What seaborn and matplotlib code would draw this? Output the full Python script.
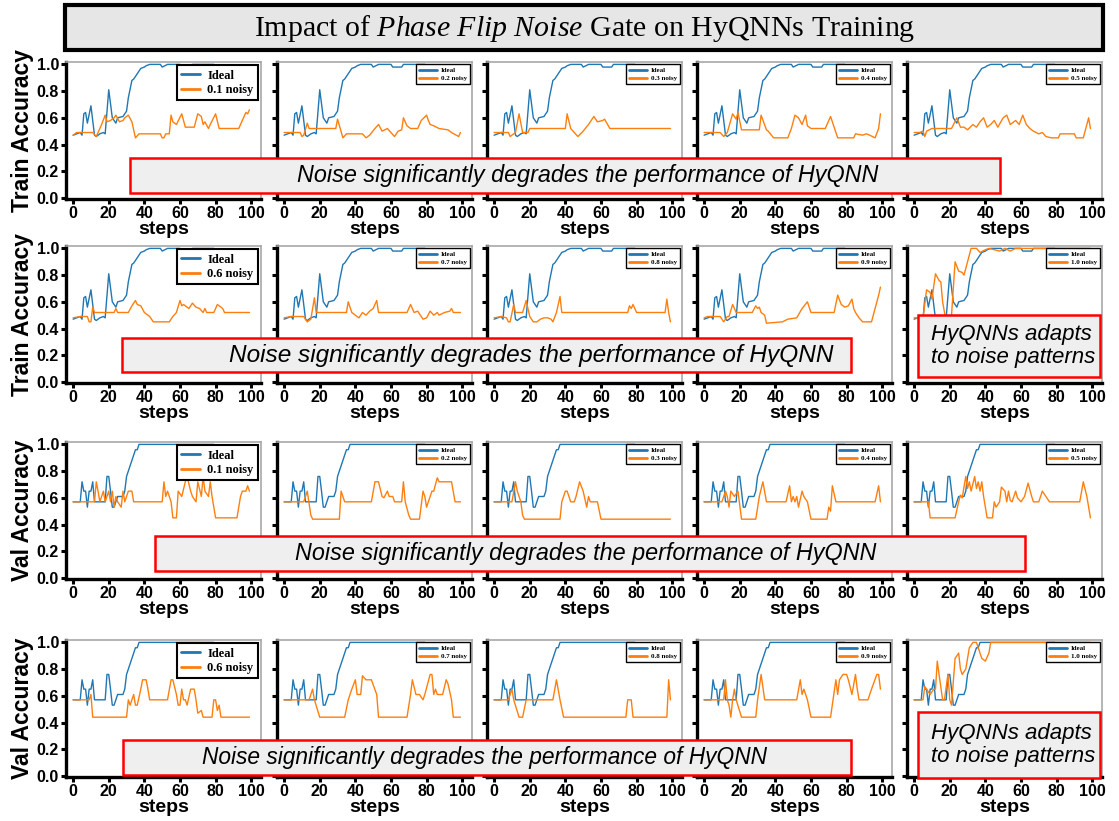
import matplotlib
matplotlib.use('Agg')
import matplotlib.pyplot as plt
from matplotlib.patches import Rectangle
import pandas as pd
import seaborn as sns

# noise probabilities of the phase flip gate, one panel each
NOISE_LEVELS = ['0.1', '0.2', '0.3', '0.4', '0.5',
                '0.6', '0.7', '0.8', '0.9', '1.0']

# (step, accuracy) points; flat stretches kept as endpoints
IDEAL_TRAIN = [(0, .47), (2, .48), (4, .49), (5, .47), (6, .63), (7, .64), (8, .56),
               (10, .69), (12, .47), (13, .46), (15, .48), (17, .49), (18, .48),
               (20, .81), (22, .60), (24, .56), (25, .60), (28, .61), (30, .65),
               (31, .75), (33, .88), (34, .89), (36, .93), (38, .97), (40, .98),
               (41, .99), (43, 1.0), (49, 1.0), (50, .98), (53, 1.0), (60, 1.0),
               (61, .98), (66, .98), (67, 1.0), (79, 1.0)]

IDEAL_VAL = [(0, .57), (4, .57), (5, .72), (6, .65), (7, .65), (8, .53), (9, .65),
             (10, .65), (11, .72), (12, .57), (18, .57), (19, .76), (20, .76),
             (21, .65), (22, .53), (23, .53), (24, .57), (25, .61), (28, .61),
             (29, .65), (30, .76), (32, .84), (33, .88), (35, .96), (36, .96),
             (37, 1.0), (79, 1.0)]

TRAIN_01 = [(0, .47), (2, .49), (11, .49), (13, .46), (14, .49), (16, .55), (18, .62),
            (19, .57), (21, .58), (23, .60), (24, .62), (26, .57), (28, .58), (29, .60),
            (31, .62), (33, .57), (35, .45), (37, .48), (49, .48), (50, .45), (51, .45),
            (52, .48), (54, .48), (55, .62), (56, .57), (58, .55), (61, .63), (63, .53),
            (68, .53), (70, .63), (72, .61), (73, .55), (74, .57), (76, .52), (77, .55),
            (80, .63), (82, .52), (93, .52), (97, .64), (98, .63), (99, .66)]
TRAIN_02 = [(0, .49), (9, .49), (10, .46), (11, .47), (13, .56), (14, .52), (29, .52),
            (30, .59), (33, .45), (35, .48), (44, .48), (46, .45), (48, .47), (51, .52),
            (53, .55), (55, .50), (58, .52), (62, .46), (64, .50), (66, .51), (67, .60),
            (69, .54), (71, .52), (75, .52), (77, .58), (80, .62), (81, .58), (82, .55),
            (84, .54), (87, .52), (92, .51), (94, .49), (98, .46), (99, .49)]
TRAIN_03 = [(0, .49), (8, .49), (9, .46), (12, .49), (14, .63), (16, .49), (19, .49),
            (20, .52), (40, .52), (41, .63), (43, .52), (47, .46), (50, .50), (53, .55),
            (56, .61), (58, .57), (61, .58), (62, .59), (65, .52), (99, .52)]
TRAIN_04 = [(0, .49), (9, .49), (11, .46), (13, .49), (16, .63), (18, .59), (19, .64),
            (21, .51), (31, .51), (32, .62), (35, .51), (36, .50), (39, .45), (47, .45),
            (49, .52), (51, .62), (53, .60), (55, .55), (57, .62), (58, .54), (60, .52),
            (68, .52), (71, .61), (75, .45), (84, .45), (85, .48), (89, .47), (91, .48),
            (93, .47), (96, .45), (98, .52), (99, .63)]
TRAIN_05 = [(0, .49), (3, .49), (5, .50), (6, .46), (7, .50), (10, .52), (21, .52),
            (24, .60), (26, .53), (28, .53), (30, .51), (33, .55), (35, .53), (37, .57),
            (39, .60), (41, .53), (43, .55), (45, .58), (47, .53), (50, .60), (52, .62),
            (54, .55), (57, .58), (59, .55), (61, .62), (63, .55), (65, .52), (67, .50),
            (70, .48), (72, .49), (74, .46), (77, .45), (81, .45), (82, .48), (90, .48),
            (91, .45), (95, .45), (98, .60), (99, .52)]
TRAIN_06 = [(0, .48), (4, .49), (8, .49), (9, .45), (10, .45), (11, .56), (12, .52),
            (23, .52), (24, .55), (25, .52), (31, .52), (33, .57), (35, .61), (36, .58),
            (38, .57), (40, .52), (43, .49), (45, .45), (54, .45), (56, .49), (58, .52),
            (60, .61), (61, .57), (62, .58), (64, .56), (65, .55), (67, .59), (69, .56),
            (71, .55), (73, .52), (74, .55), (75, .52), (79, .52), (81, .58), (83, .56),
            (84, .55), (85, .52), (99, .52)]
TRAIN_07 = [(0, .48), (4, .49), (11, .49), (13, .45), (15, .47), (17, .63), (18, .52),
            (35, .52), (36, .60), (38, .52), (40, .50), (42, .48), (44, .52), (46, .50),
            (48, .53), (50, .55), (52, .61), (53, .52), (69, .52), (71, .58), (73, .52),
            (75, .53), (78, .47), (80, .48), (82, .53), (84, .50), (86, .52), (87, .50),
            (90, .52), (93, .53), (94, .55), (95, .52), (99, .52)]
TRAIN_08 = [(0, .48), (4, .49), (7, .48), (8, .45), (9, .45), (11, .58), (12, .52),
            (16, .52), (18, .61), (20, .49), (22, .45), (24, .45), (26, .47), (28, .48),
            (30, .48), (32, .47), (33, .45), (35, .52), (37, .64), (38, .52), (75, .52),
            (76, .57), (77, .55), (78, .58), (80, .52), (96, .52), (97, .62), (98, .52),
            (99, .45)]
TRAIN_09 = [(0, .48), (2, .49), (9, .49), (11, .45), (13, .49), (14, .49), (16, .58),
            (18, .52), (27, .52), (29, .57), (30, .55), (31, .56), (32, .52), (34, .50),
            (35, .44), (44, .45), (47, .47), (52, .48), (55, .55), (58, .60), (60, .52),
            (73, .52), (75, .65), (77, .58), (79, .56), (81, .57), (83, .62), (84, .55),
            (85, .52), (87, .48), (89, .45), (94, .45), (96, .55), (98, .65), (99, .71)]
TRAIN_10 = [(0, .48), (5, .48), (7, .69), (9, .67), (10, .62), (12, .81), (14, .76),
            (15, .75), (16, .60), (18, .45), (21, .50), (23, .90), (25, .83), (27, .82),
            (28, .80), (29, .85), (31, .95), (32, 1.0), (35, 1.0), (37, .97), (40, .99),
            (42, 1.0), (48, .98), (51, 1.0), (54, .98), (57, 1.0), (99, 1.0)]

VAL_01 = [(0, .57), (12, .57), (13, .72), (14, .65), (15, .57), (17, .65), (18, .57),
          (20, .65), (21, .57), (22, .65), (23, .53), (24, .61), (25, .57), (27, .53),
          (28, .65), (29, .57), (30, .61), (31, .65), (33, .65), (34, .57), (50, .57),
          (51, .72), (52, .61), (53, .65), (54, .61), (55, .57), (56, .45), (58, .45),
          (59, .65), (61, .61), (63, .72), (64, .76), (66, .65), (67, .61), (69, .57),
          (70, .72), (72, .61), (73, .76), (74, .65), (76, .61), (77, .72), (78, .61),
          (80, .45), (92, .45), (94, .61), (95, .65), (97, .65), (98, .69), (99, .65)]
VAL_02 = [(0, .57), (11, .57), (13, .65), (15, .47), (16, .44), (31, .44), (32, .65),
          (34, .57), (49, .57), (51, .72), (53, .72), (55, .61), (56, .60), (58, .65),
          (59, .61), (61, .61), (62, .57), (66, .57), (67, .72), (68, .57), (70, .47),
          (71, .44), (76, .44), (78, .65), (79, .61), (80, .53), (82, .61), (83, .65),
          (84, .65), (86, .75), (87, .72), (94, .72), (96, .57), (99, .57)]
VAL_03 = [(0, .57), (10, .57), (12, .72), (13, .65), (15, .57), (16, .47), (17, .44),
          (37, .44), (38, .57), (40, .65), (41, .65), (43, .57), (45, .57), (46, .61),
          (48, .72), (50, .65), (52, .53), (53, .61), (54, .57), (58, .57), (60, .44),
          (99, .44)]
VAL_04 = [(0, .57), (10, .57), (12, .65), (13, .61), (14, .53), (15, .65), (17, .61),
          (19, .65), (21, .44), (29, .44), (31, .61), (33, .72), (35, .57), (46, .57),
          (48, .69), (49, .57), (50, .61), (51, .57), (52, .61), (53, .53), (55, .65),
          (56, .61), (58, .57), (60, .44), (69, .44), (70, .53), (71, .50), (72, .69),
          (74, .57), (96, .57), (98, .69), (99, .57)]
VAL_05 = [(0, .57), (8, .57), (9, .45), (23, .45), (25, .57), (26, .62), (27, .60),
          (29, .76), (30, .67), (31, .72), (32, .65), (34, .76), (35, .67), (36, .72),
          (37, .65), (38, .72), (39, .61), (40, .53), (41, .45), (44, .45), (45, .57),
          (46, .53), (48, .57), (49, .68), (51, .65), (52, .57), (53, .65), (54, .58),
          (55, .57), (57, .65), (58, .60), (60, .57), (62, .61), (64, .71), (66, .61),
          (67, .57), (70, .57), (72, .65), (74, .61), (76, .57), (93, .57), (95, .72),
          (97, .61), (98, .53), (99, .45)]
VAL_06 = [(0, .57), (9, .57), (10, .61), (11, .44), (30, .44), (31, .57), (32, .53),
          (34, .61), (35, .53), (36, .53), (38, .65), (39, .72), (41, .72), (42, .65),
          (43, .57), (53, .57), (55, .72), (56, .72), (58, .61), (59, .53), (60, .53),
          (61, .65), (62, .57), (63, .57), (64, .53), (66, .65), (68, .65), (69, .57),
          (70, .47), (72, .49), (73, .44), (78, .44), (79, .57), (80, .57), (81, .49),
          (82, .53), (83, .44), (99, .44)]
VAL_07 = [(0, .57), (14, .57), (16, .65), (17, .57), (20, .44), (34, .44), (36, .57),
          (38, .65), (40, .72), (41, .61), (43, .61), (44, .75), (46, .72), (49, .72),
          (52, .61), (53, .44), (69, .44), (71, .61), (72, .72), (74, .61), (76, .61),
          (78, .57), (79, .61), (82, .76), (83, .76), (84, .61), (85, .65), (86, .61),
          (89, .61), (91, .72), (92, .69), (94, .57), (95, .44), (99, .44)]
VAL_08 = [(0, .57), (8, .57), (10, .65), (11, .57), (14, .44), (16, .44), (18, .57),
          (33, .57), (35, .72), (37, .57), (39, .44), (74, .44), (75, .57), (77, .57),
          (78, .44), (97, .44), (98, .72), (99, .57)]
VAL_09 = [(0, .57), (11, .57), (12, .72), (13, .57), (14, .53), (15, .44), (16, .57),
          (17, .65), (18, .57), (21, .44), (29, .44), (30, .57), (32, .76), (34, .57),
          (52, .57), (54, .72), (55, .61), (56, .65), (58, .57), (60, .44), (71, .44),
          (74, .72), (75, .61), (76, .72), (78, .76), (80, .76), (81, .72), (83, .61),
          (85, .76), (86, .65), (87, .57), (92, .57), (94, .65), (97, .76), (98, .76),
          (99, .65)]
VAL_10 = [(0, .57), (5, .57), (6, .67), (7, .65), (9, .61), (11, .65), (12, .65),
          (13, .86), (14, .76), (16, .57), (17, .57), (19, .76), (20, .57), (21, .53),
          (23, .88), (25, .92), (26, .80), (27, .76), (29, .80), (31, .96), (33, 1.0),
          (35, 1.0), (36, .96), (38, .88), (40, .86), (42, .92), (43, 1.0), (99, 1.0)]

TRAIN_NOISY = [TRAIN_01, TRAIN_02, TRAIN_03, TRAIN_04, TRAIN_05,
               TRAIN_06, TRAIN_07, TRAIN_08, TRAIN_09, TRAIN_10]
VAL_NOISY = [VAL_01, VAL_02, VAL_03, VAL_04, VAL_05,
             VAL_06, VAL_07, VAL_08, VAL_09, VAL_10]

TITLE = r"Impact of $\mathit{Phase\ Flip\ Noise}$ Gate on HyQNNs Training"
NOTE_DEGRADE = "Noise significantly degrades the performance of HyQNN"
NOTE_ADAPT = "HyQNNs adapts\nto noise patterns"

W, H = 1119, 821
COL_LEFT = [66, 277, 487, 697, 907]
ROW_TOP = [62, 246, 442, 640]
AX_W, AX_H = 195, 137

sns.set_style('ticks')
plt.rcParams['font.family'] = ['Liberation Sans', 'DejaVu Sans']
plt.rcParams['mathtext.fontset'] = 'custom'
plt.rcParams['mathtext.rm'] = 'Liberation Serif'
plt.rcParams['mathtext.it'] = 'Liberation Serif:italic'
for key in ['text.color', 'axes.labelcolor', 'xtick.color', 'ytick.color']:
    plt.rcParams[key] = 'black'

BLUE, ORANGE = '#1f77b4', '#ff7f0e'


def fig_box(px, py, pw, ph):
    return [px / W, 1 - (py + ph) / H, pw / W, ph / H]


def draw_panel(ax, ideal, noisy, level, first_col, ylab):
    ideal_df = pd.DataFrame(ideal, columns=['step', 'acc'])
    noisy_df = pd.DataFrame(noisy, columns=['step', 'acc'])
    sns.lineplot(data=ideal_df, x='step', y='acc', ax=ax, color=BLUE, lw=1.0,
                 label='Ideal', estimator=None, sort=False)
    sns.lineplot(data=noisy_df, x='step', y='acc', ax=ax, color=ORANGE, lw=1.0,
                 label='{} noisy'.format(level), estimator=None, sort=False)

    ax.set_xlim(-4, 105.5)
    ax.set_ylim(-0.008, 1.018)
    ax.set_xticks(range(0, 101, 20))
    ax.set_yticks([0, .2, .4, .6, .8, 1.0])
    ax.set_yticklabels(['0.0', '0.2', '0.4', '0.6', '0.8', '1.0'])
    ax.tick_params(axis='both', direction='out', length=3.5, width=2.2,
                   labelsize=11.5, pad=1.5, color='black')
    for lbl in ax.get_xticklabels() + ax.get_yticklabels():
        lbl.set_fontweight('bold')
    if not first_col:
        ax.set_yticklabels([])

    for side in ['left', 'bottom']:
        ax.spines[side].set_color('black')
        ax.spines[side].set_linewidth(2.4)
    for side in ['top', 'right']:
        ax.spines[side].set_color('#a8a8a8')
        ax.spines[side].set_linewidth(1.2)

    ax.set_xlabel('steps', fontsize=14, fontweight='bold', labelpad=0)
    if first_col:
        ax.set_ylabel(ylab, fontsize=16.5, fontweight='bold', labelpad=2)
    else:
        ax.set_ylabel('')

    if first_col:
        size = 9
        leg_kw = dict(handlelength=1.5, borderpad=0.35, labelspacing=0.2,
                      handletextpad=0.6, borderaxespad=0.25)
    else:
        size = 5
        leg_kw = dict(handlelength=2.6, borderpad=0.45, labelspacing=0.3,
                      handletextpad=0.5, borderaxespad=0.3)
    leg = ax.legend(loc='upper right', fancybox=False, framealpha=1,
                    edgecolor='black',
                    prop={'family': 'Liberation Serif', 'weight': 'bold',
                          'size': size}, **leg_kw)
    leg.get_frame().set_linewidth(1.5 if first_col else 1.0)
    for line in leg.get_lines():
        line.set_linewidth(2.0)


fig = plt.figure(figsize=(W / 100, H / 100), dpi=100)

for r in range(4):
    is_train = r < 2
    ideal = IDEAL_TRAIN if is_train else IDEAL_VAL
    series = TRAIN_NOISY if is_train else VAL_NOISY
    ylab = 'Train Accuracy' if is_train else 'Val Accuracy'
    for c in range(5):
        k = (r % 2) * 5 + c
        ax = fig.add_axes(fig_box(COL_LEFT[c], ROW_TOP[r], AX_W, AX_H))
        draw_panel(ax, ideal, series[k], NOISE_LEVELS[k], c == 0, ylab)

# title banner
fig.add_artist(Rectangle((65 / W, 1 - 50 / H), (1103 - 65) / W, 45 / H,
                         transform=fig.transFigure, facecolor='#e6e6e6',
                         edgecolor='black', lw=3, zorder=5))
fig.text(585 / W, 1 - 29 / H, TITLE, ha='center', va='center', fontsize=21.5,
         family='Liberation Serif', zorder=6)

# annotation boxes: x0, y0, x1, y1, text centre, font size
NOTE_BOXES = [(130, 158, 1000, 193, 588, 16.8), (122, 338, 851, 372, 531, 17.6),
              (155, 536, 1025, 571, 586, 16.8), (123, 740, 851, 775, 485, 16.4)]
for x0, y0, x1, y1, xc, fs in NOTE_BOXES:
    fig.add_artist(Rectangle((x0 / W, 1 - y1 / H), (x1 - x0) / W, (y1 - y0) / H,
                             transform=fig.transFigure, facecolor='#efefef',
                             edgecolor='red', lw=1.8, zorder=5))
    fig.text(xc / W, 1 - (y0 + y1) / 2 / H, NOTE_DEGRADE, ha='center',
             va='center', fontsize=fs, style='italic', zorder=6)

for x0, y0, x1, y1 in [(918, 315, 1100, 377), (918, 712, 1100, 778)]:
    fig.add_artist(Rectangle((x0 / W, 1 - y1 / H), (x1 - x0) / W, (y1 - y0) / H,
                             transform=fig.transFigure, facecolor='#efefef',
                             edgecolor='red', lw=1.8, zorder=5))
    fig.text(931 / W, 1 - (y0 + y1) / 2 / H, NOTE_ADAPT, ha='left',
             va='center', fontsize=16, style='italic', linespacing=1.1,
             zorder=6)

fig.savefig('out.png', dpi=100)
